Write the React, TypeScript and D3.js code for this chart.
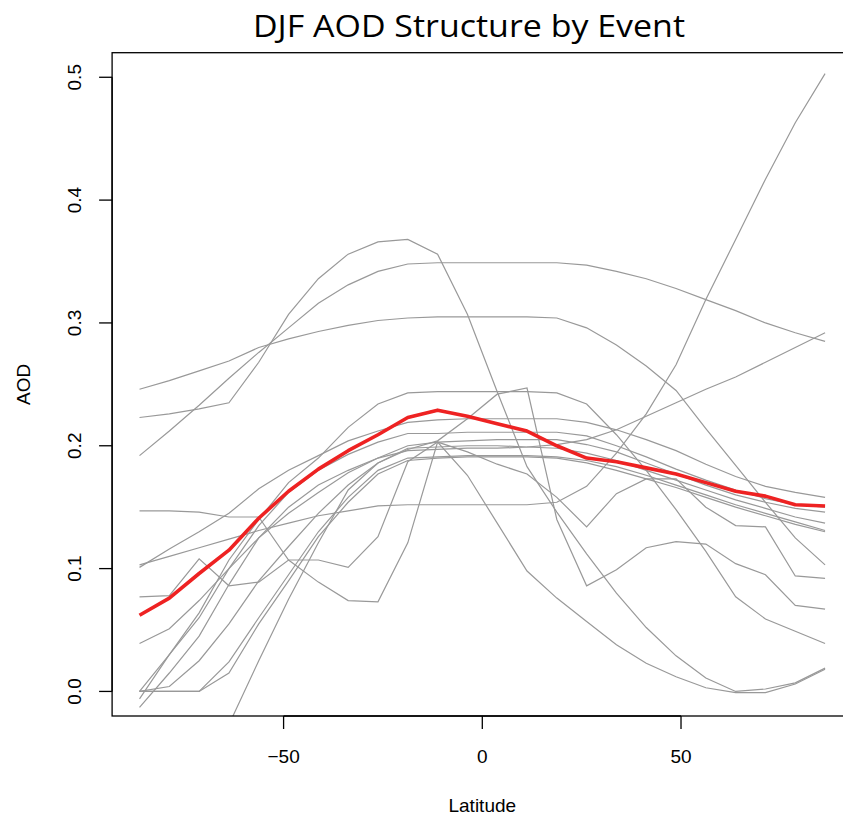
import React from 'react';
import * as d3 from 'd3';

const latitudes = [-86.25, -78.75, -71.25, -63.75, -56.25, -48.75, -41.25, -33.75, -26.25, -18.75, -11.25, -3.75, 3.75, 11.25, 18.75, 26.25, 33.75, 41.25, 48.75, 56.25, 63.75, 71.25, 78.75, 86.25];

const eventA = [0.246, 0.253, 0.261, 0.269, 0.280, 0.287, 0.293, 0.298, 0.302, 0.304, 0.305, 0.305, 0.305, 0.305, 0.304, 0.296, 0.282, 0.265, 0.245, 0.214, 0.184, 0.154, 0.125, 0.103];
const eventB = [0.223, 0.226, 0.230, 0.235, 0.268, 0.307, 0.336, 0.356, 0.366, 0.368, 0.356, 0.307, 0.244, 0.183, 0.146, 0.112, 0.080, 0.052, 0.029, 0.011, 0.000, 0.002, 0.007, 0.019];
const eventC = [0.192, 0.212, 0.233, 0.255, 0.276, 0.296, 0.316, 0.331, 0.342, 0.348, 0.349, 0.349, 0.349, 0.349, 0.349, 0.347, 0.342, 0.336, 0.328, 0.319, 0.310, 0.300, 0.292, 0.285];
const eventD = [0.147, 0.147, 0.146, 0.142, 0.142, 0.107, 0.089, 0.074, 0.073, 0.121, 0.203, 0.195, 0.185, 0.177, 0.158, 0.134, 0.161, 0.173, 0.173, 0.150, 0.135, 0.134, 0.094, 0.092];
const eventE = [0.103, 0.110, 0.117, 0.124, 0.131, 0.137, 0.143, 0.147, 0.151, 0.152, 0.152, 0.152, 0.152, 0.152, 0.154, 0.167, 0.194, 0.226, 0.266, 0.319, 0.368, 0.417, 0.463, 0.503];
const eventF = [0.101, 0.116, 0.130, 0.145, 0.165, 0.180, 0.192, 0.204, 0.212, 0.219, 0.221, 0.222, 0.222, 0.222, 0.222, 0.219, 0.213, 0.205, 0.196, 0.185, 0.175, 0.167, 0.162, 0.158];
const eventG = [0.077, 0.078, 0.108, 0.086, 0.089, 0.107, 0.107, 0.101, 0.126, 0.187, 0.203, 0.176, 0.137, 0.098, 0.076, 0.057, 0.038, 0.023, 0.012, 0.003, -0.001, -0.001, 0.006, 0.018];
const eventH = [0.039, 0.051, 0.074, 0.100, 0.125, 0.145, 0.162, 0.178, 0.190, 0.200, 0.203, 0.204, 0.205, 0.205, 0.205, 0.201, 0.195, 0.186, 0.177, 0.168, 0.160, 0.154, 0.149, 0.146];
const eventI = [0.000, 0.000, 0.000, 0.024, 0.060, 0.095, 0.130, 0.158, 0.180, 0.190, 0.191, 0.192, 0.192, 0.192, 0.191, 0.188, 0.183, 0.176, 0.168, 0.160, 0.152, 0.145, 0.138, 0.131];
const eventJ = [0.000, 0.000, 0.000, 0.015, 0.055, 0.090, 0.126, 0.154, 0.177, 0.188, 0.190, 0.191, 0.191, 0.191, 0.190, 0.186, 0.180, 0.173, 0.166, 0.158, 0.150, 0.143, 0.136, 0.130];
const eventK = [0.000, 0.004, 0.025, 0.055, 0.090, 0.118, 0.145, 0.168, 0.186, 0.198, 0.199, 0.200, 0.200, 0.199, 0.198, 0.194, 0.188, 0.180, 0.172, 0.164, 0.156, 0.149, 0.142, 0.137];
const eventL = [0.000, 0.030, 0.060, 0.100, 0.135, 0.162, 0.180, 0.193, 0.203, 0.210, 0.210, 0.211, 0.211, 0.211, 0.211, 0.208, 0.200, 0.191, 0.181, 0.172, 0.164, 0.157, 0.152, 0.150];
const eventM = [-0.006, 0.030, 0.064, 0.107, 0.140, 0.170, 0.190, 0.215, 0.234, 0.243, 0.244, 0.244, 0.244, 0.244, 0.243, 0.234, 0.209, 0.180, 0.148, 0.114, 0.077, 0.059, 0.049, 0.039];
const eventN = [-0.013, 0.015, 0.045, 0.087, 0.125, 0.150, 0.168, 0.180, 0.190, 0.196, 0.197, 0.198, 0.198, 0.199, 0.201, 0.205, 0.213, 0.224, 0.235, 0.246, 0.256, 0.268, 0.280, 0.292];
const eventO = [-0.178, -0.127, -0.077, -0.027, 0.025, 0.075, 0.121, 0.164, 0.186, 0.197, 0.204, 0.222, 0.242, 0.247, 0.140, 0.086, 0.099, 0.117, 0.122, 0.120, 0.104, 0.095, 0.070, 0.067];

const meanAOD = [0.062, 0.076, 0.096, 0.115, 0.141, 0.163, 0.181, 0.196, 0.209, 0.223, 0.229, 0.224, 0.218, 0.212, 0.200, 0.190, 0.187, 0.182, 0.177, 0.170, 0.163, 0.159, 0.152, 0.151];

const events = [eventA, eventB, eventC, eventD, eventE, eventF, eventG, eventH, eventI, eventJ, eventK, eventL, eventM, eventN, eventO];

const xTicks = [-50, 0, 50];
const yTicks = [0, 0.1, 0.2, 0.3, 0.4, 0.5];

const titleText = 'DJF AOD Structure by Event';
const xLabel = 'Latitude';
const yLabel = 'AOD';

export default function App() {
  const W = 843;
  const H = 822;
  const left = 112.1, right = 852.5, top = 52.7, bottom = 716;
  const x = d3.scaleLinear().domain([-93.15, 93.15]).range([left, right]);
  const y = d3.scaleLinear().domain([-0.02, 0.52]).range([bottom, top]);
  const line = d3
    .line<number>()
    .x((_, i) => x(latitudes[i]))
    .y((d) => y(d));
  const fmt = d3.format('.1f');
  const tickFont = '"Liberation Sans", Arial, Helvetica, sans-serif';
  const tickLen = 13;

  return (
    <svg
      width={W}
      height={H}
      viewBox={`0 0 ${W} ${H}`}
      style={{ position: 'absolute', left: 0, top: 0, background: '#fff' }}
    >
      <rect x={0} y={0} width={W} height={H} fill="#fff" />
      <defs>
        <clipPath id="plotClip">
          <rect x={left} y={top} width={right - left} height={bottom - top} />
        </clipPath>
      </defs>
      <text
        x={469}
        y={37}
        textAnchor="middle"
        fontFamily='"Open Sans", "Noto Sans", sans-serif'
        fontSize={31}
        textLength={432}
        lengthAdjust="spacingAndGlyphs"
        fill="#000"
      >
        {titleText}
      </text>
      <g clipPath="url(#plotClip)">
        {events.map((ev, k) => (
          <path key={k} d={line(ev) || ''} fill="none" stroke="#999999" strokeWidth={1.2} />
        ))}
        <path d={line(meanAOD) || ''} fill="none" stroke="#ee2222" strokeWidth={3.6} strokeLinejoin="round" />
      </g>
      <rect x={left} y={top} width={right - left} height={bottom - top} fill="none" stroke="#000" strokeWidth={1.3} />
      {/* x axis */}
      <line x1={x(xTicks[0])} x2={x(xTicks[xTicks.length - 1])} y1={bottom} y2={bottom} stroke="#000" strokeWidth={1.3} />
      {xTicks.map((t) => (
        <g key={t}>
          <line x1={x(t)} x2={x(t)} y1={bottom} y2={bottom + tickLen} stroke="#000" strokeWidth={1.3} />
          <text x={x(t)} y={763} textAnchor="middle" fontFamily={tickFont} fontSize={19} fill="#000">
            {t < 0 ? '\u2212' + Math.abs(t) : String(t)}
          </text>
        </g>
      ))}
      {/* y axis */}
      <line x1={left} x2={left} y1={y(yTicks[0])} y2={y(yTicks[yTicks.length - 1])} stroke="#000" strokeWidth={1.3} />
      {yTicks.map((t) => (
        <g key={t}>
          <line x1={left - tickLen} x2={left} y1={y(t)} y2={y(t)} stroke="#000" strokeWidth={1.3} />
          <text
            transform={`translate(81, ${y(t)}) rotate(-90)`}
            textAnchor="middle"
            fontFamily={tickFont}
            fontSize={19}
            fill="#000"
          >
            {fmt(t)}
          </text>
        </g>
      ))}
      <text x={x(0)} y={812} textAnchor="middle" fontFamily={tickFont} fontSize={19} fill="#000">
        {xLabel}
      </text>
      <text transform={`translate(30, ${(top + bottom) / 2}) rotate(-90)`} textAnchor="middle" fontFamily={tickFont} fontSize={19} fill="#000">
        {yLabel}
      </text>
    </svg>
  );
}
